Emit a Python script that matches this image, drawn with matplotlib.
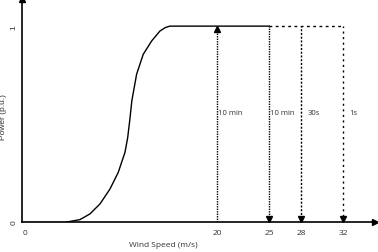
#wind turbine power curve with cut-out speeds
import numpy as np
import matplotlib.pyplot as plt

plt.rcParams['font.family'] = ['Open Sans', 'DejaVu Sans']

#power curve
wind = [5.7, 6.95, 7.9, 8.86, 9.81, 10.6, 11.24, 11.5, 11.7, 11.9, 12.35,
	12.98, 13.78, 14.57, 15.1, 15.52, 25.0]
power = [0.0, 0.012, 0.041, 0.092, 0.168, 0.253, 0.355, 0.43, 0.52, 0.62, 0.754,
	0.856, 0.924, 0.975, 0.993, 1.0, 1.0]

#cut-out speeds and their time windows
cutout = [20, 25, 28, 32]
windows = ['10 min', '10 min', '30s', '1s']
xticks = [20, 25, 28, 32]

x0 = 1.43
fig = plt.figure(figsize=(3.78, 2.53), dpi=100)
ax = fig.add_axes([0.058, 0.1186, 0.934, 0.881])
ax.set_xlim(x0, 35.05)
ax.set_ylim(0, 1.138)

ax.plot([x0, wind[0]], [0, 0], color='black', lw=1.0)
ax.plot(wind, power, color='black', lw=1.0, solid_joinstyle='round')

#horizontal dashed continuation
ax.plot([cutout[1], cutout[-1]], [1, 1], color='black', lw=1.0, ls=(0, (2, 2.5)))

styles = [(0, (1, 0.8)), (0, (1, 0.8)), (0, (1.5, 1.2)), (0, (1.5, 2.5))]
offs = [0.1, 0.1, 0.6, 0.6]
for i in range(len(cutout)):
	c = cutout[i]
	ax.plot([c, c], [0, 1], color='black', lw=1.0, ls=styles[i])
	if i == 0:
		ax.plot(c, 0.985, marker='^', color='black', ms=5)
	else:
		ax.plot(c, 0.015, marker='v', color='black', ms=5)
	ax.text(c + offs[i], 0.56, windows[i], fontsize=5.5, color='#333333', va='center', ha='left')

#axes with arrows
for s in ['top', 'right']:
	ax.spines[s].set_visible(False)
ax.spines['left'].set_linewidth(1.2)
ax.spines['bottom'].set_linewidth(1.2)
ax.plot(1, 0, '>k', ms=5, transform=ax.get_yaxis_transform(), clip_on=False)
ax.plot(x0, 1, '^k', ms=5, transform=ax.get_xaxis_transform(), clip_on=False)

ax.set_xticks([x0 + 0.25] + xticks)
ax.set_xticklabels(['0'] + [str(t) for t in xticks])
ax.set_yticks([0, 1])
ax.set_yticklabels(['0', '1'], rotation=90, va='center', family='Liberation Sans')
ax.tick_params(length=0, labelsize=6, colors='#333333', pad=5)
ax.tick_params(axis='y', pad=3)
ax.set_xlabel('Wind Speed (m/s)', fontsize=6, color='#333333')
ax.xaxis.set_label_coords(0.40, -0.085)
ax.set_ylabel('Power (p.u.)', fontsize=6, color='#333333', family='Liberation Sans')
ax.yaxis.set_label_coords(-0.043, 0.475)

fig.savefig('out.png', dpi=100)
